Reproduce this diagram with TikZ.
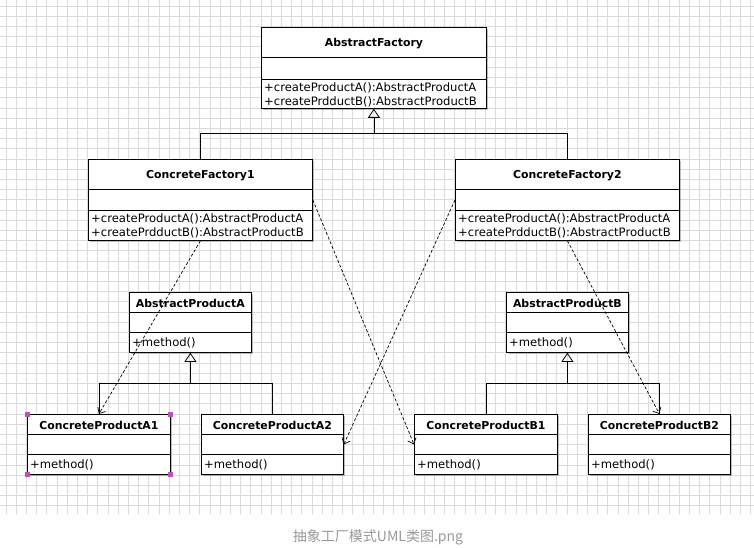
\documentclass[tikz,border=0pt]{standalone}
\usepackage{fontspec}
\newfontfamily\umlfont{DejaVu Sans}
\newfontfamily\cjkfont{Noto Sans CJK SC}
\usetikzlibrary{arrows.meta,shadows}
\definecolor{gridc}{HTML}{DDDADD}
\definecolor{capc}{HTML}{999999}
\definecolor{handlec}{HTML}{C050C0}
% #1 name, #2 position, #3 width, #4 height, #5 header height, #6 header+attr height, #7 title
\newcommand\umlbox[7]{%
  \node[classbox, minimum width=#3, minimum height=#4] (#1) at #2 {};
  \draw[sepline] ([yshift=-#5]#1.north west) -- ([yshift=-#5]#1.north east);
  \draw[sepline] ([yshift=-#6]#1.north west) -- ([yshift=-#6]#1.north east);
  \node[titletext] (#1-t) at ([yshift=-#5/2-1.2pt]#1.north) {#7};
}
\begin{document}
\begin{tikzpicture}[x=1pt,y=-1pt,
  classbox/.style={draw=black, fill=white, line width=0.8pt, inner sep=0pt, anchor=north west,
    drop shadow={shadow xshift=1.5pt, shadow yshift=-1.5pt, fill=black, opacity=0.25}},
  titletext/.style={font=\umlfont\bfseries\fontsize{10.9}{13}\selectfont, inner sep=0pt},
  member/.style={font=\umlfont\fontsize{11.6}{13}\selectfont, inner sep=0pt, anchor=west},
  sepline/.style={line width=0.8pt},
  gen/.style={line width=0.8pt, -{Triangle[open, length=9pt, width=12pt]}},
  dep/.style={line width=0.7pt, dash pattern=on 3pt off 2pt, -{Straight Barb[length=5pt, width=9pt]}},
  gridline/.style={gridc, line width=0.9pt}]
\useasboundingbox (0,0) rectangle (754,548);
\fill[white] (0,0) rectangle (754,548);
% grid
\foreach \i in {0,...,73} \draw[gridline] ({6+10.2*\i},0) -- ({6+10.2*\i},514);
\foreach \j in {0,...,49} \draw[gridline] (0,{6+10.2*\j}) -- (754,{6+10.2*\j});

% classes
\umlbox{af}{(261,27)}{225pt}{81pt}{30pt}{52pt}{AbstractFactory}
\node[member] (af-m1) at ([xshift=3pt,yshift=-60.5pt]af.north west) {+createProductA():AbstractProductA};
\node[member] (af-m2) at ([xshift=3pt,yshift=-75pt]af.north west) {+createPrdductB():AbstractProductB};

\umlbox{cf1}{(88,159)}{224pt}{81pt}{30pt}{51pt}{ConcreteFactory1}
\node[member] (cf1-m1) at ([xshift=3pt,yshift=-59.5pt]cf1.north west) {+createProductA():AbstractProductA};
\node[member] (cf1-m2) at ([xshift=3pt,yshift=-74pt]cf1.north west) {+createPrdductB():AbstractProductB};

\umlbox{cf2}{(455,159)}{224pt}{81pt}{30pt}{51pt}{ConcreteFactory2}
\node[member] (cf2-m1) at ([xshift=3pt,yshift=-59.5pt]cf2.north west) {+createProductA():AbstractProductA};
\node[member] (cf2-m2) at ([xshift=3pt,yshift=-74pt]cf2.north west) {+createPrdductB():AbstractProductB};

\umlbox{apa}{(129,292)}{122pt}{60pt}{20pt}{40pt}{AbstractProductA}
\node[member] (apa-m) at ([xshift=3pt,yshift=-51pt]apa.north west) {+method()};
\umlbox{apb}{(506,292)}{122pt}{60pt}{20pt}{40pt}{AbstractProductB}
\node[member] (apb-m) at ([xshift=3pt,yshift=-51pt]apb.north west) {+method()};

\umlbox{a1}{(27,414)}{143pt}{60pt}{20pt}{40pt}{ConcreteProductA1}
\node[member] (a1-m) at ([xshift=3pt,yshift=-51pt]a1.north west) {+method()};
\umlbox{a2}{(201,414)}{142pt}{60pt}{20pt}{40pt}{ConcreteProductA2}
\node[member] (a2-m) at ([xshift=3pt,yshift=-51pt]a2.north west) {+method()};
\umlbox{b1}{(414,414)}{143pt}{60pt}{20pt}{40pt}{ConcreteProductB1}
\node[member] (b1-m) at ([xshift=3pt,yshift=-51pt]b1.north west) {+method()};
\umlbox{b2}{(588,414)}{142pt}{60pt}{20pt}{40pt}{ConcreteProductB2}
\node[member] (b2-m) at ([xshift=3pt,yshift=-51pt]b2.north west) {+method()};

% generalizations
\path (af.south) ++(0,25) coordinate (jf);
\draw[sepline] (cf1.north) |- (jf) -| (cf2.north);
\draw[gen] (jf) -- (af.south);
\path (apa.south) ++(0,31) coordinate (ja);
\draw[sepline] (a1.north) |- (ja) -| (a2.north);
\draw[gen] (ja) -- (apa.south);
\path (apb.south) ++(0,31) coordinate (jb);
\draw[sepline] (b1.north) |- (jb) -| (b2.north);
\draw[gen] (jb) -- (apb.south);

% dependencies
\draw[dep] (cf1.south) -- (a1.north);
\draw[dep] (cf1.east) -- (b1.west);
\draw[dep] (cf2.west) -- (a2.east);
\draw[dep] (cf2.south) -- (b2.north);

% selection handles
\foreach \c in {north west, north east, south west, south east}
  \fill[handlec] ([xshift=-2.5pt,yshift=-2.5pt]a1.\c) rectangle ([xshift=2.5pt,yshift=2.5pt]a1.\c);

% caption
\node[font=\cjkfont\fontsize{14}{16}\selectfont, text=capc] (cap) at (378,537) {抽象工厂模式UML类图.png};
\end{tikzpicture}
\end{document}
